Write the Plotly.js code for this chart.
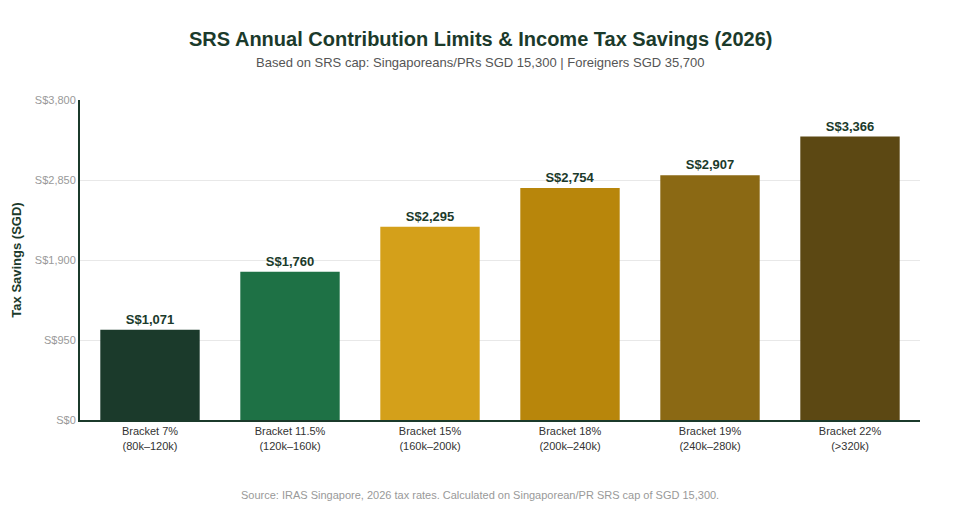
<!DOCTYPE html>
<html>
<head>
<meta charset="utf-8">
<script src="https://cdn.plot.ly/plotly-3.0.1.min.js"></script>
<style>html,body{margin:0;padding:0;background:#fff;}#chart{width:960px;height:520px;}</style>
</head>
<body>
<div id="chart"></div>
<script>
const categories = ["Bracket 7%<br>(80k–120k)", "Bracket 11.5%<br>(120k–160k)", "Bracket 15%<br>(160k–200k)", "Bracket 18%<br>(200k–240k)", "Bracket 19%<br>(240k–280k)", "Bracket 22%<br>(>320k)"];
const savings = [1071, 1760, 2295, 2754, 2907, 3366];
const barLabels = ["S$1,071", "S$1,760", "S$2,295", "S$2,754", "S$2,907", "S$3,366"];
const yTickVals = [0, 950, 1900, 2850, 3800];
const yTickText = ["S$0", "S$950", "S$1,900", "S$2,850", "S$3,800"];
const colors = ["#1b3a2b", "#1e7145", "#d4a01a", "#b8860b", "#8b6914", "#5c4813"];

const trace = {
  type: "bar",
  x: categories,
  y: savings,
  text: barLabels,
  textposition: "outside",
  cliponaxis: false,
  textfont: {family: "Liberation Sans, Arial, sans-serif", size: 13, color: "#1b3a2b", weight: "bold"},
  marker: {color: colors},
  hoverinfo: "none"
};

const cx = (480 - 80) / 840;

const layout = {
  width: 960, height: 520,
  margin: {l: 80, r: 40, t: 100, b: 100},
  paper_bgcolor: "#fff", plot_bgcolor: "#fff",
  font: {family: "Liberation Sans, Arial, sans-serif"},
  bargap: 0.29,
  showlegend: false,
  xaxis: {
    showline: true, linecolor: "#1b3a2b", linewidth: 2,
    tickfont: {size: 11, color: "#333"},
    ticks: "", showgrid: false
  },
  yaxis: {
    range: [0, 3800],
    tickvals: yTickVals, ticktext: yTickText,
    showline: true, linecolor: "#1b3a2b", linewidth: 2,
    gridcolor: "#e8e8e8", gridwidth: 1,
    tickfont: {size: 11, color: "#999"},
    zeroline: false,
    title: {text: "<b>Tax Savings (SGD)</b>", font: {size: 13, color: "#1b3a2b"}, standoff: 10}
  },
  annotations: [
    {text: "<b>SRS Annual Contribution Limits & Income Tax Savings (2026)</b>", xref: "paper", yref: "paper", x: cx, y: 1, yshift: 61, xanchor: "center", yanchor: "middle", showarrow: false, font: {size: 20, color: "#1b3a2b"}},
    {text: "Based on SRS cap: Singaporeans/PRs SGD 15,300 | Foreigners SGD 35,700", xref: "paper", yref: "paper", x: cx, y: 1, yshift: 38, xanchor: "center", yanchor: "middle", showarrow: false, font: {size: 13, color: "#555"}},
    {text: "Source: IRAS Singapore, 2026 tax rates. Calculated on Singaporean/PR SRS cap of SGD 15,300.", xref: "paper", yref: "paper", x: cx, y: 0, yshift: -75, xanchor: "center", yanchor: "middle", showarrow: false, font: {size: 11, color: "#999"}}
  ]
};

Plotly.newPlot("chart", [trace], layout, {displayModeBar: false, staticPlot: true});
</script>
</body>
</html>
